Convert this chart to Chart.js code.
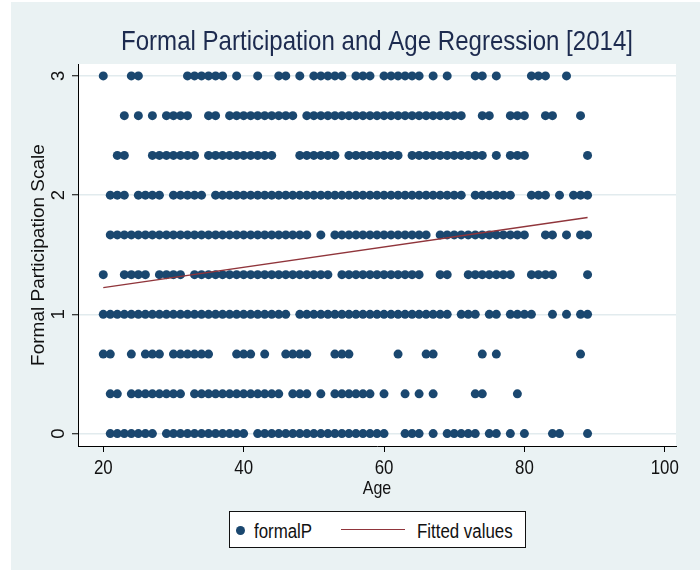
<!DOCTYPE html>
<html><head><meta charset="utf-8">
<script src="https://cdn.jsdelivr.net/npm/chart.js@4.4.1/dist/chart.umd.min.js"></script>
<style>
html,body{margin:0;padding:0;background:#fff;}
#wrap{position:relative;width:700px;height:576px;overflow:hidden;}
#bg{position:absolute;left:11px;top:2px;right:0;bottom:6px;background:#EAF2F3;}
canvas{position:absolute;left:0;top:0;}
#legend{position:absolute;left:229px;top:511px;width:297px;height:37px;box-sizing:border-box;border:1px solid #111;background:#fff;font-family:"Liberation Sans",Arial,sans-serif;font-size:19.5px;color:#111;}
#legend span{position:absolute;display:block;}
#legend .dot{left:5.5px;top:13.5px;width:9px;height:9px;border-radius:50%;background:#1A476F;}
#legend .t{top:8.7px;line-height:20px;white-space:nowrap;transform:scaleX(0.865);transform-origin:0 50%;}
#legend .ln{left:111px;top:16.5px;width:64px;height:1.5px;background:#90353B;}
</style></head><body>
<div id="wrap">
<div id="bg"></div>
<canvas id="c" width="700" height="576"></canvas>
<div id="legend"><span class="dot"></span><span class="t" style="left:24.3px">formalP</span><span class="ln"></span><span class="t" style="left:186.7px">Fitted values</span></div>
</div>
<script>
const chartTitle = "Formal Participation and Age Regression [2014]";
const xTitle = "Age";
const yTitle = "Formal Participation Scale";
const xTicks = [20, 40, 60, 80, 100];
const yTicks = [0, 1, 2, 3];
const yLevels = [0, 0.3333, 0.6667, 1, 1.3333, 1.6667, 2, 2.3333, 2.6667, 3];

const agesAt0 = [21,22,23,24,25,26,27,29,30,31,32,33,34,35,36,37,38,39,40,42,43,44,45,46,47,48,49,50,51,52,53,54,55,56,57,58,59,60,63,64,65,67,69,70,71,72,73,75,76,78,80,84,85,89];
const agesAt1_3 = [21,22,24,25,26,27,28,29,30,31,33,34,35,36,37,38,39,40,41,42,43,44,45,47,48,49,51,53,54,55,56,57,58,60,63,65,67,73,74,79];
const agesAt2_3 = [20,21,24,26,27,28,30,31,32,33,34,35,39,40,41,43,46,47,48,49,53,54,55,62,66,67,74,76,88];
const agesAt1 = [20,21,22,23,24,25,26,27,28,29,30,31,32,33,34,35,36,37,38,39,40,41,42,43,44,45,46,48,49,50,51,52,53,54,55,56,57,58,59,60,61,62,63,64,65,66,67,68,69,71,72,73,75,76,78,79,80,81,84,86,88,89];
const agesAt4_3 = [20,23,24,25,26,28,29,30,31,33,34,35,36,37,38,39,40,41,42,43,44,45,46,47,48,49,50,51,52,54,55,56,57,58,59,60,61,62,63,64,65,68,69,72,73,74,75,76,77,78,81,82,83,84,89];
const agesAt5_3 = [21,22,23,24,25,26,27,28,29,30,31,32,33,34,35,36,37,38,39,40,41,42,43,44,45,46,47,48,49,51,53,54,55,56,57,58,59,60,61,62,63,64,65,66,68,69,70,71,72,73,74,75,76,77,78,79,80,83,84,86,88,89];
const agesAt2 = [21,22,23,25,26,27,28,30,31,32,33,34,36,37,38,39,40,41,42,43,44,45,46,47,48,49,50,51,52,53,54,55,56,57,58,59,60,61,62,63,64,65,66,67,68,69,70,71,73,74,75,76,77,78,81,82,83,85,87,88,89];
const agesAt7_3 = [22,23,27,28,29,30,31,32,33,35,36,37,38,39,40,41,42,43,44,48,49,50,51,52,53,55,56,57,58,59,60,61,62,64,65,66,67,68,69,70,71,72,73,74,76,78,79,80,89];
const agesAt8_3 = [23,25,27,29,30,31,32,35,36,38,39,40,41,42,43,44,45,46,47,49,50,51,52,53,54,55,56,57,58,59,60,61,62,63,64,65,66,67,68,69,70,71,74,75,78,79,80,83,84,88];
const agesAt3 = [20,24,25,32,33,34,35,36,37,39,42,45,46,48,50,51,52,53,54,56,57,58,60,61,62,63,64,65,67,69,73,74,76,81,82,83,86];
const agesByLevel = [agesAt0, agesAt1_3, agesAt2_3, agesAt1, agesAt4_3, agesAt5_3, agesAt2, agesAt7_3, agesAt8_3, agesAt3];

const fitAges = [20, 89];
const fitValues = [1.224, 1.812];

const points = [];
agesByLevel.forEach((ages, i) => ages.forEach(a => points.push({x: a, y: yLevels[i]})));
const fitLine = fitAges.map((a, i) => ({x: a, y: fitValues[i]}));

const FAM = "'Liberation Sans', Arial, sans-serif";
const SQUEEZE = 0.865;

function drawText(ctx, text, x, y, size, color, sx, rot) {
  ctx.save();
  ctx.font = size + 'px ' + FAM;
  ctx.fillStyle = color;
  ctx.textAlign = 'center';
  ctx.textBaseline = 'middle';
  ctx.translate(x, y);
  if (rot) ctx.rotate(rot);
  ctx.scale(sx, 1);
  ctx.fillText(text, 0, 0);
  ctx.restore();
}

const bgPlugin = {
  id: 'plotBg',
  beforeDraw(chart) {
    const {ctx, chartArea: a} = chart;
    ctx.save();
    ctx.fillStyle = '#ffffff';
    ctx.fillRect(a.left, a.top, a.right - a.left, a.bottom - a.top);
    ctx.restore();
  }
};
const textPlugin = {
  id: 'stataText',
  afterDraw(chart) {
    const ctx = chart.ctx;
    const a = chart.chartArea;
    const cx = (a.left + a.right) / 2;
    drawText(ctx, chartTitle, cx, a.top - 21.5, 27.8, '#1d2b4f', SQUEEZE, 0);
    const sx = chart.scales.x;
    sx.ticks.forEach(t => {
      drawText(ctx, String(t.value), sx.getPixelForValue(t.value), a.bottom + 22.5, 19.5, '#111', SQUEEZE, 0);
    });
    drawText(ctx, xTitle, cx, a.bottom + 43, 18.5, '#111', SQUEEZE, 0);
    const sy = chart.scales.y;
    sy.ticks.forEach(t => {
      drawText(ctx, String(t.value), sy.right - 19.5, sy.getPixelForValue(t.value), 18.5, '#111', 1, -Math.PI / 2);
    });
  }
};

new Chart(document.getElementById('c'), {
  type: 'scatter',
  data: {
    datasets: [
      {type: 'line', label: 'Fitted values', data: fitLine, borderColor: '#90353B', borderWidth: 1.4,
       pointRadius: 0, fill: false, tension: 0, order: 1},
      {type: 'scatter', label: 'formalP', data: points, backgroundColor: '#1A476F', borderColor: '#1A476F',
       borderWidth: 0, pointRadius: 4.5, order: 2}
    ]
  },
  options: {
    responsive: false, animation: false, devicePixelRatio: 1, events: [],
    layout: {padding: {left: 27, right: 24, top: 64, bottom: 77}},
    plugins: {
      legend: {display: false},
      tooltip: {enabled: false},
      title: {display: false}
    },
    scales: {
      x: {
        type: 'linear', position: 'bottom', min: 16.4, max: 101.6,
        afterBuildTicks: s => { s.ticks = xTicks.map(v => ({value: v})); },
        afterFit: s => { s.height = 53; },
        ticks: {display: false},
        grid: {drawOnChartArea: false, tickLength: 6, tickColor: '#000', tickWidth: 1},
        border: {color: '#000', width: 1},
        title: {display: false, text: xTitle}
      },
      y: {
        type: 'linear', position: 'left', min: -0.104, max: 3.1,
        afterBuildTicks: s => { s.ticks = yTicks.map(v => ({value: v})); },
        afterFit: s => { s.width = 51; },
        ticks: {display: false},
        grid: {color: '#E2EBEE', lineWidth: 1.5, tickLength: 6, tickColor: '#000', tickWidth: 1},
        border: {color: '#000', width: 1},
        title: {display: true, text: yTitle, font: {family: FAM, size: 19}, color: '#111', padding: 0}
      }
    }
  },
  plugins: [bgPlugin, textPlugin]
});
</script>
</body></html>
